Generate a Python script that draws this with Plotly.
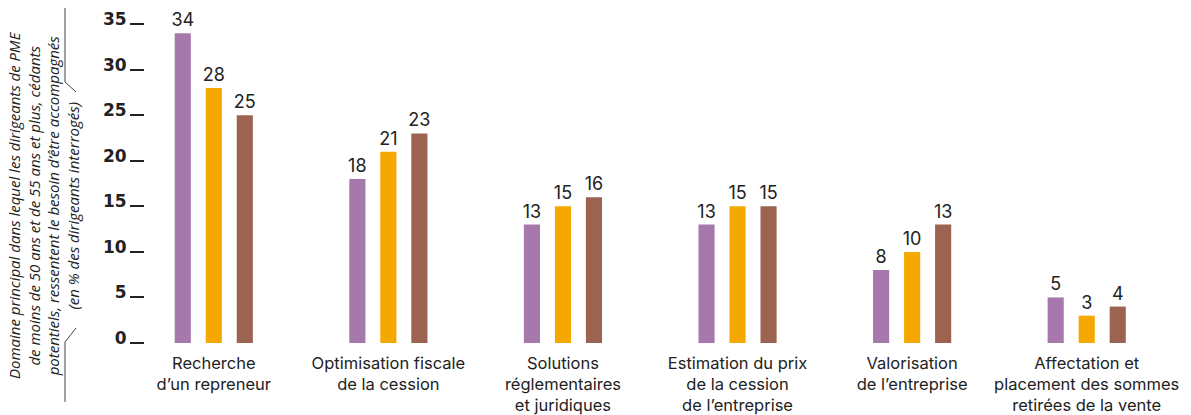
import plotly.graph_objects as go

# Survey results: main area where SME leaders feel they need support
categories = [
    "Recherche<br>d\u2019un repreneur",
    "Optimisation fiscale<br>de la cession",
    "Solutions<br>réglementaires<br>et juridiques",
    "Estimation du prix<br>de la cession<br>de l\u2019entreprise",
    "Valorisation<br>de l\u2019entreprise",
    "Affectation et<br>placement des sommes<br>retirées de la vente",
]
series_a = [34, 18, 13, 13, 8, 5]
series_b = [28, 21, 15, 15, 10, 3]
series_c = [25, 23, 16, 15, 13, 4]
colors = ["#A678AC", "#F5A800", "#9B6350"]
y_ticks = [0, 5, 10, 15, 20, 25, 30, 35]

axis_title = (
    "<i>Domaine principal dans lequel les dirigeants de PME<br>"
    "de moins de 50 ans et de 55 ans et plus, cédants<br>"
    "potentiels, ressentent le besoin d\u2019être accompagnés<br>"
    "(en % des dirigeants interrogés)</i>"
)

fig = go.Figure()
for vals, col in zip([series_a, series_b, series_c], colors):
    fig.add_trace(go.Bar(
        x=categories, y=vals,
        marker=dict(color=col, line=dict(width=0)),
        text=[str(v) for v in vals], textposition="outside",
        textfont=dict(family="Inter", size=18, color="#222222"),
        constraintext="none", cliponaxis=False, showlegend=False,
    ))

fig.update_layout(
    width=1191, height=415,
    margin=dict(l=145, r=17, t=15, b=72),
    paper_bgcolor="white", plot_bgcolor="white",
    barmode="group", bargap=0.467, bargroupgap=0.48,
    uniformtext=dict(minsize=18, mode="show"),
    xaxis=dict(
        range=[-0.394, 5.5], showline=False, showgrid=False, ticks="",
        tickfont=dict(family="Inter", size=16.5, color="#222222"),
        ticklabelstandoff=8, automargin=False,
    ),
    yaxis=dict(
        range=[0, 36], tickvals=y_ticks, ticktext=[str(v) for v in y_ticks],
        showgrid=False, showline=False, zeroline=False,
        ticks="outside", ticklen=14, tickwidth=2, tickcolor="#222222",
        tickfont=dict(family="DejaVu Sans", size=17, color="#222222", weight="bold"),
        ticklabelshift=-5, ticklabelstandoff=0, automargin=False,
    ),
    annotations=[dict(
        text=axis_title, textangle=-90, showarrow=False,
        xref="paper", yref="paper", x=0, y=0, xshift=-102, yshift=138,
        xanchor="center", yanchor="middle", align="center",
        font=dict(family="Open Sans", size=15, color="#222222"),
    )],
    shapes=[
        dict(type="path", xref="paper", yref="paper", xsizemode="pixel", ysizemode="pixel",
             xanchor=0, yanchor=0, path="M-80,335 L-80,261 L-69,251",
             line=dict(color="#444444", width=1)),
        dict(type="path", xref="paper", yref="paper", xsizemode="pixel", ysizemode="pixel",
             xanchor=0, yanchor=0, path="M-69,15 L-80,1 L-80,-59",
             line=dict(color="#444444", width=1)),
    ],
)

fig.write_html("out.html")
